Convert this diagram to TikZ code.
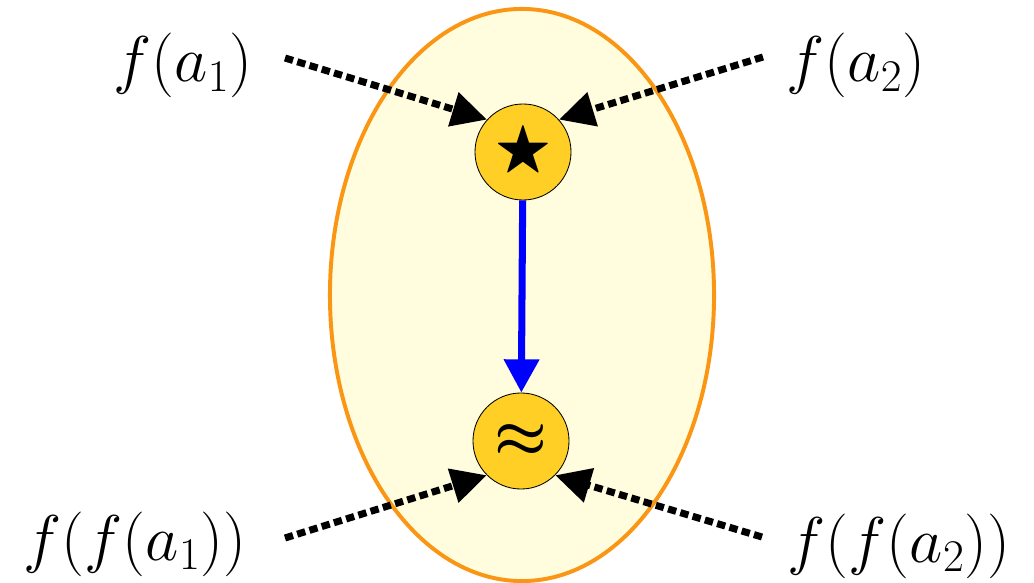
\RequirePackage{fix-cm}
\documentclass[tikz,border=0pt]{standalone}
\usepackage{amssymb}
\usepackage{tikz}
\usetikzlibrary{arrows.meta, shapes.geometric}
\definecolor{paleyellow}{RGB}{255,253,222}
\definecolor{ringorange}{RGB}{250,150,20}
\definecolor{goldfill}{RGB}{255,207,38}
\definecolor{flowblue}{RGB}{0,0,255}

\begin{document}
\begin{tikzpicture}[
  x=0.025cm, y=-0.025cm,
  blob/.style={ellipse, draw=ringorange, fill=paleyellow, line width=2.8pt, minimum width=9.6cm, minimum height=14.3cm, inner sep=0pt},
  op/.style={circle, draw=black, fill=goldfill, line width=0.6pt, minimum size=2.4cm, inner sep=0pt, font=\fontsize{42}{44}\selectfont\boldmath},
  term/.style={anchor=base, inner sep=0pt, font=\fontsize{46}{48}\selectfont},
  dotarr/.style={-{Triangle[length=0.88cm, width=0.85cm]}, line width=5pt, dash pattern=on 0.21cm off 0.11cm, draw=black},
  flow/.style={-{Triangle[length=0.83cm, width=0.85cm]}, line width=5pt, draw=flowblue}
]
  \useasboundingbox (0,0) rectangle (1034,583);
  \node[blob] (region) at (522,295) {};
  \node[op] (star) at (523,152) {$\bigstar$};
  \node[op] (approx) at (521,441) {$\approx$};

  \node[term] (fa1) at (183,82) {$f(a_1)$};
  \node[term] (fa2) at (856,82) {$f(a_2)$};
  \node[term] (ffa1) at (135,560) {$f(f(a_1))$};
  \node[term] (ffa2) at (899,562) {$f(f(a_2))$};

  \coordinate (tail1) at (285,58);
  \coordinate (tail2) at (763,57);
  \coordinate (tail3) at (285,538);
  \coordinate (tail4) at (762,537);

  \draw[dotarr] (tail1) -- (star.138);
  \draw[dotarr] (tail2) -- (star.42);
  \draw[dotarr] (tail3) -- (approx.225);
  \draw[dotarr] (tail4) -- (approx.315);
  \draw[flow] (star) -- (approx);
\end{tikzpicture}
\end{document}
